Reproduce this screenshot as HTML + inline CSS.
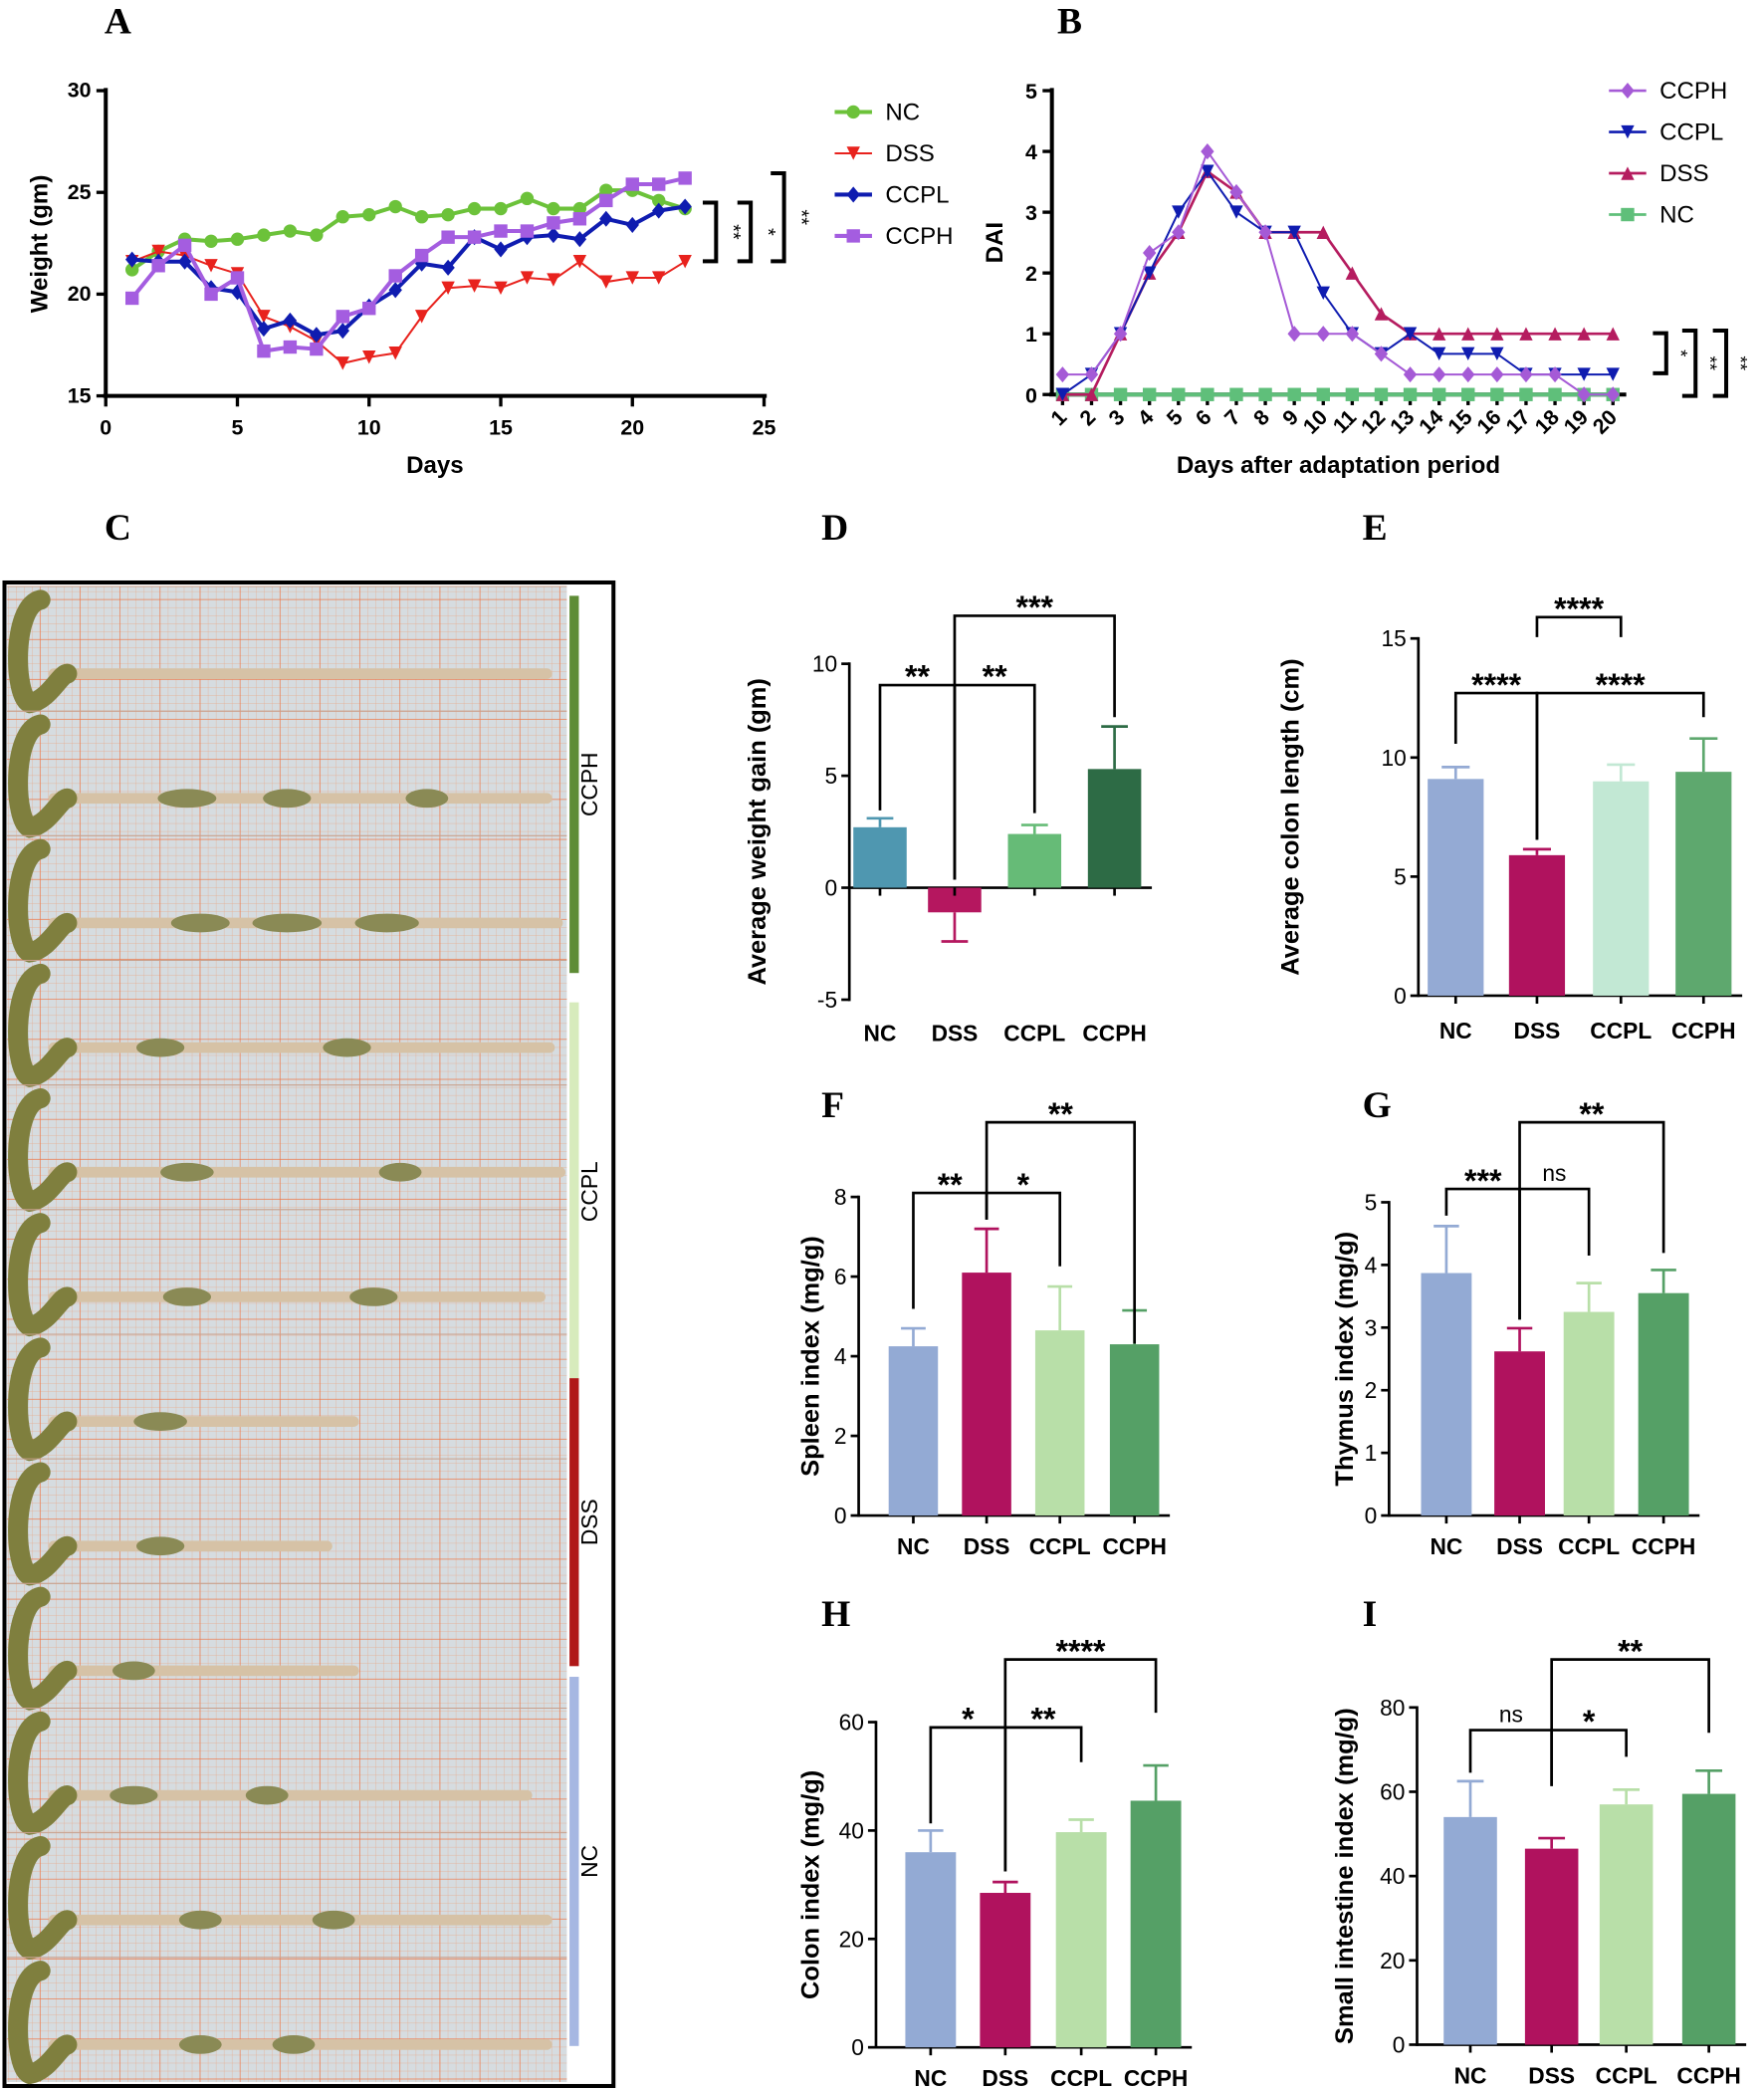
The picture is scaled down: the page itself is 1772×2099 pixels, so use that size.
<!DOCTYPE html>
<html><head><meta charset="utf-8">
<style>
html,body{margin:0;padding:0;background:#fff;}
svg{display:block;font-family:"Liberation Sans",Arial,sans-serif;}
.lt{font-family:"Liberation Serif",serif;font-weight:bold;font-size:28px;}
.tk{font-size:16px;font-weight:bold;}
.ax{font-size:18px;font-weight:bold;}
.lg{font-size:18px;}
</style></head>
<body>
<svg id="fig" width="1772" height="2099" viewBox="0 0 1323 1568" xmlns="http://www.w3.org/2000/svg">
<defs>
<pattern id="gridS" width="6" height="6" patternUnits="userSpaceOnUse"><path d="M6 0V6M0 6H6" stroke="#e8a888" stroke-width="0.5" fill="none"/></pattern>
<pattern id="gridL" width="30" height="30" patternUnits="userSpaceOnUse"><path d="M30 0V30M0 30H30" stroke="#ee6f3e" stroke-width="0.9" fill="none"/></pattern>
</defs>
<g id="labels">
<text class="lt" x="78" y="25">A</text>
<text class="lt" x="793" y="25">B</text>
<text class="lt" x="78" y="405">C</text>
<text class="lt" x="616" y="405">D</text>
<text class="lt" x="1022" y="405">E</text>
<text class="lt" x="616" y="838">F</text>
<text class="lt" x="1022" y="838">G</text>
<text class="lt" x="616" y="1220">H</text>
<text class="lt" x="1022" y="1220">I</text>
</g>
<g id="panelA"></g>
<g id="panelB"></g>
<g id="panelC"></g>
<g id="bars"></g>
</svg>
<script>
const NS="http://www.w3.org/2000/svg";
function mk(p,t,a,txt){const e=document.createElementNS(NS,t);for(const k in a)e.setAttribute(k,a[k]);if(txt!==undefined)e.textContent=txt;p.appendChild(e);return e;}

// ---------- Panel A data ----------
const daysA=[1,2,3,4,5,6,7,8,9,10,11,12,13,14,15,16,17,18,19,20,21,22];
const ncA=[21.2,22.1,22.7,22.6,22.7,22.9,23.1,22.9,23.8,23.9,24.3,23.8,23.9,24.2,24.2,24.7,24.2,24.2,25.1,25.1,24.6,24.2];
const dssA=[21.6,22.1,21.9,21.4,21.0,18.9,18.4,17.7,16.6,16.9,17.1,18.9,20.3,20.4,20.3,20.8,20.7,21.6,20.6,20.8,20.8,21.6];
const ccplA=[21.7,21.6,21.6,20.3,20.1,18.3,18.7,18.0,18.2,19.4,20.2,21.5,21.3,22.8,22.2,22.8,22.9,22.7,23.7,23.4,24.1,24.3];
const ccphA=[19.8,21.4,22.4,20.0,20.8,17.2,17.4,17.3,18.9,19.3,20.9,21.9,22.8,22.8,23.1,23.1,23.5,23.7,24.6,25.4,25.4,25.7];
const xTicksA=[0,5,10,15,20,25];
const yTicksA=[15,20,25,30];

// ---------- Panel B data ----------
const daysB=[1,2,3,4,5,6,7,8,9,10,11,12,13,14,15,16,17,18,19,20];
const ccphB=[0.33,0.33,1,2.33,2.67,4,3.33,2.67,1,1,1,0.67,0.33,0.33,0.33,0.33,0.33,0.33,0,0];
const ccplB=[0,0.33,1,2,3,3.67,3,2.67,2.67,1.67,1,0.67,1,0.67,0.67,0.67,0.33,0.33,0.33,0.33];
const dssB=[0,0,1,2,2.67,3.67,3.33,2.67,2.67,2.67,2,1.33,1,1,1,1,1,1,1,1];
const ncB=[0,0,0,0,0,0,0,0,0,0,0,0,0,0,0,0,0,0,0,0];
const yTicksB=[0,1,2,3,4,5];

// ---------- Bar chart data ----------
const groups=["NC","DSS","CCPL","CCPH"];
const dMeans=[2.7,-1.1,2.4,5.3];   const dErr=[0.4,1.3,0.4,1.9];  const dTicks=[-5,0,5,10];
const eMeans=[9.1,5.9,9.0,9.4];    const eErr=[0.5,0.25,0.7,1.4]; const eTicks=[0,5,10,15];
const fMeans=[4.25,6.1,4.65,4.3];  const fErr=[0.45,1.1,1.1,0.85]; const fTicks=[0,2,4,6,8];
const gMeans=[3.87,2.62,3.25,3.55];const gErr=[0.75,0.37,0.46,0.37]; const gTicks=[0,1,2,3,4,5];
const hMeans=[36,28.5,39.7,45.5];  const hErr=[4,2,2.3,6.5];      const hTicks=[0,20,40,60];
const iMeans=[54,46.5,57,59.5];    const iErr=[8.5,2.5,3.5,5.5];  const iTicks=[0,20,40,60,80];

// ---------- markers ----------
function marker(g,type,x,y,c,s){
  let e;
  if(type==="circle") e=mk(g,"circle",{cx:x,cy:y,r:s,fill:c});
  else if(type==="square") e=mk(g,"rect",{x:x-s,y:y-s,width:2*s,height:2*s,fill:c});
  else if(type==="down") e=mk(g,"path",{d:`M${x-s} ${y-s}L${x+s} ${y-s}L${x} ${y+s}Z`,fill:c});
  else if(type==="up") e=mk(g,"path",{d:`M${x-s} ${y+s}L${x+s} ${y+s}L${x} ${y-s}Z`,fill:c});
  else e=mk(g,"path",{d:`M${x} ${y-s-1}L${x+s} ${y}L${x} ${y+s+1}L${x-s} ${y}Z`,fill:c});
  
  
}

// ---------- Panel A ----------
(function(){
  const g=document.getElementById('panelA');
  const X=v=>79+(v/25)*494, Y=v=>297-(v-15)/15*229;
  mk(g,"line",{x1:79,y1:66,x2:79,y2:297,stroke:"#000","stroke-width":3});
  mk(g,"line",{x1:77,y1:297,x2:575,y2:297,stroke:"#000","stroke-width":3});
  xTicksA.forEach(t=>{mk(g,"line",{x1:X(t),y1:297,x2:X(t),y2:305,stroke:"#000","stroke-width":2.5});
    const e=mk(g,"text",{x:X(t),y:326,"text-anchor":"middle",class:"tk"},t);});
  yTicksA.forEach(t=>{mk(g,"line",{x1:72,y1:Y(t),x2:79,y2:Y(t),stroke:"#000","stroke-width":2.5});
    const e=mk(g,"text",{x:68,y:Y(t)+5,"text-anchor":"end",class:"tk"},t);});
  let t=mk(g,"text",{x:326,y:355,"text-anchor":"middle",class:"ax"},"Days");
  t=mk(g,"text",{transform:"translate(35,183) rotate(-90)","text-anchor":"middle",class:"ax"},"Weight (gm)");
  const series=[[ncA,"#6cc23a","circle",3,"NC"],[dssA,"#e8221d","down",1.5,"DSS"],[ccplA,"#0f1cb0","diamond",3,"CCPL"],[ccphA,"#a45de0","square",3,"CCPH"]];
  series.forEach(([d,c,m,w,name],si)=>{
    const s=mk(g,"g",{});
    mk(s,"polyline",{points:d.map((v,i)=>X(daysA[i])+","+Y(v)).join(" "),fill:"none",stroke:c,"stroke-width":w});
    d.forEach((v,i)=>marker(s,m,X(daysA[i]),Y(v),c,5));
    const ly=84+si*31;
    const le=mk(g,"g",{});
    mk(le,"line",{x1:626,y1:ly,x2:654,y2:ly,stroke:c,"stroke-width":w});marker(le,m,640,ly,c,5);
    mk(le,"text",{x:664,y:ly+6,class:"lg"},name);
  });
  [[527,"**"],[553,"*"],[578,"**"]].forEach(([x,s],i)=>{
    const top=[152,152,130][i];
    mk(g,"path",{d:`M${x} ${top}H${x+10}V196H${x}`,fill:"none",stroke:"#000","stroke-width":3});
    mk(g,"text",{transform:`translate(${x+18},${(top+196)/2}) rotate(90)`,"text-anchor":"middle","font-size":"15px"},s);
  });
})();

// ---------- Panel B ----------
(function(){
  const g=document.getElementById('panelB');
  const X=d=>797+(d-1)/19*413, Y=v=>296-v/5*228;
  mk(g,"line",{x1:789,y1:66,x2:789,y2:297,stroke:"#000","stroke-width":3});
  mk(g,"line",{x1:787,y1:296,x2:1220,y2:296,stroke:"#000","stroke-width":3});
  yTicksB.forEach(t=>{mk(g,"line",{x1:782,y1:Y(t),x2:789,y2:Y(t),stroke:"#000","stroke-width":2.5});
    const e=mk(g,"text",{x:778,y:Y(t)+6,"text-anchor":"end",class:"tk"},t);});
  daysB.forEach(d=>{mk(g,"line",{x1:X(d),y1:296,x2:X(d),y2:304,stroke:"#000","stroke-width":2.5});
    const e=mk(g,"text",{transform:`translate(${X(d)+4},${314}) rotate(-45)`,"text-anchor":"end",class:"tk"},d);});
  let t=mk(g,"text",{x:1004,y:355,"text-anchor":"middle",class:"ax"},"Days after adaptation period");
  t=mk(g,"text",{transform:"translate(752,182) rotate(-90)","text-anchor":"middle",class:"ax"},"DAI");
  const series=[[ncB,"#5fbf7a","square","NC",3],[dssB,"#b51c5f","up","DSS",2],[ccplB,"#0f1cb0","down","CCPL",1.5],[ccphB,"#a55ad6","diamond","CCPH",1.5]];
  series.forEach(([d,c,m,name,w])=>{
    const s=mk(g,"g",{});
    mk(s,"polyline",{points:d.map((v,i)=>X(daysB[i])+","+Y(v)).join(" "),fill:"none",stroke:c,"stroke-width":w});
    d.forEach((v,i)=>marker(s,m,X(daysB[i]),Y(v),c,5));
  });
  [["CCPH","#a55ad6","diamond"],["CCPL","#0f1cb0","down"],["DSS","#b51c5f","up"],["NC","#5fbf7a","square"]].forEach(([n,c,m],i)=>{
    const ly=68+i*31;const le=mk(g,"g",{});
    mk(le,"line",{x1:1207,y1:ly,x2:1235,y2:ly,stroke:c,"stroke-width":2});marker(le,m,1221,ly,c,5);
    mk(le,"text",{x:1245,y:ly+6,class:"lg"},n);
  });
  [[1240,250,280,"*"],[1262,248,297,"**"],[1285,248,297,"**"]].forEach(([x,a,b,s])=>{
    mk(g,"path",{d:`M${x} ${a}H${x+10}V${b}H${x}`,fill:"none",stroke:"#000","stroke-width":3});
    mk(g,"text",{transform:`translate(${x+16},${(a+b)/2}) rotate(90)`,"text-anchor":"middle","font-size":"14px"},s);
  });
})();

// ---------- Panel C (photo) ----------
(function(){
  const g=document.getElementById('panelC');
  mk(g,"rect",{x:3,y:437,width:457,height:1128,fill:"#fff",stroke:"#000","stroke-width":3});
  mk(g,"rect",{x:5,y:440,width:420,height:1122,fill:"#d6dce0"});
  mk(g,"rect",{x:5,y:440,width:420,height:1122,fill:"url(#gridS)"});
  mk(g,"rect",{x:5,y:440,width:420,height:1122,fill:"url(#gridL)"});
  const ends=[410,410,418,412,420,405,265,245,265,395,410,410];
  const clumps=[[],[[140,0.7],[215,0.5],[320,0.4]],[[150,0.7],[215,0.9],[290,0.8]],[[120,0.5],[260,0.5]],[[140,0.6],[300,0.4]],[[140,0.5],[280,0.5]],[[120,0.6]],[[120,0.5]],[[100,0.4]],[[100,0.5],[200,0.4]],[[150,0.4],[250,0.4]],[[150,0.4],[220,0.4]]];
  const h=1122/12;
  ends.forEach((e,i)=>{
    const y0=440+i*h, cy=y0+h*0.7;
    mk(g,"line",{x1:5,y1:y0,x2:425,y2:y0,stroke:"#c9a08c","stroke-width":0.8});
    const s=mk(g,"g",{});
    mk(s,"path",{d:`M40 ${cy}L${e} ${cy}`,stroke:"#d6c2a6","stroke-width":8,"stroke-linecap":"round"});
    mk(s,"path",{d:`M30 ${y0+10}C8 ${y0+15} 10 ${y0+h-10} 22 ${y0+h-6}C36 ${y0+h-8} 45 ${cy} 50 ${cy}`,stroke:"#7f7f3e","stroke-width":15,fill:"none","stroke-linecap":"round"});
    clumps[i].forEach(([x,k])=>mk(s,"ellipse",{cx:x,cy:cy,rx:20*k+8,ry:7,fill:"#8a8a55"}));
  });
  const bars=[[447,730,"#5e8c36","CCPH"],[752,1036,"#d7ebbc","CCPL"],[1034,1250,"#b01818","DSS"],[1258,1535,"#a6b7e2","NC"]];
  bars.forEach(([a,b,c,n])=>{
    const r=mk(g,"rect",{x:427,y:a,width:7,height:b-a,fill:c});
    mk(g,"text",{transform:`translate(448,${(a+b)/2}) rotate(-90)`,"text-anchor":"middle","font-size":"17px"},n);
  });
})();

// ---------- Bar charts ----------
function barChart(cfg){
  const g=mk(document.getElementById('bars'),"g",{});
  
  
  const {ax,yTop,yBot,ticks,means,errs,centers,bw,colors,title,xlY,brackets}=cfg;
  const lo=ticks[0],hi=ticks[ticks.length-1];
  const Y=v=>yBot-(v-lo)/(hi-lo)*(yBot-yTop);
  mk(g,"line",{x1:ax,y1:yTop-1,x2:ax,y2:yBot+1,stroke:"#000","stroke-width":2});
  const right=centers[3]+bw/2+8;
  mk(g,"line",{x1:ax,y1:Y(0),x2:right,y2:Y(0),stroke:"#000","stroke-width":2});
  ticks.forEach(t=>{mk(g,"line",{x1:ax-6,y1:Y(t),x2:ax,y2:Y(t),stroke:"#000","stroke-width":2});
    const e=mk(g,"text",{x:ax-9,y:Y(t)+6,"text-anchor":"end","font-size":"17px"},t);});
  means.forEach((m,i)=>{
    const c=centers[i];
    const top=Math.min(Y(m),Y(0)),hh=Math.abs(Y(m)-Y(0));
    const ev=m>=0?m+errs[i]:m-errs[i];
    mk(g,"line",{x1:c,y1:Y(m),x2:c,y2:Y(ev),stroke:colors[i],"stroke-width":2});
    mk(g,"line",{x1:c-bw/4,y1:Y(ev),x2:c+bw/4,y2:Y(ev),stroke:colors[i],"stroke-width":2});
    const r=mk(g,"rect",{x:c-bw/2,y:top,width:bw,height:hh,fill:colors[i]});
    
    
    mk(g,"line",{x1:c,y1:Y(0),x2:c,y2:Y(0)+6,stroke:"#000","stroke-width":2});
    const e=mk(g,"text",{x:c,y:xlY,"text-anchor":"middle","font-size":"17px","font-weight":"bold"},groups[i]);
    
  });
  let t=mk(g,"text",{transform:`translate(${cfg.titleX},${(yTop+yBot)/2}) rotate(-90)`,"text-anchor":"middle","font-size":"19px","font-weight":"bold"},title);
  
  brackets.forEach(([a,b,y,s,ya,yb])=>{
    const x1=centers[a],x2=centers[b];
    mk(g,"path",{d:`M${x1} ${ya}V${y}H${x2}V${yb}`,fill:"none",stroke:"#000","stroke-width":2});
    const e=mk(g,"text",{x:(x1+x2)/2,y:s==="ns"?y-6:y+2,"text-anchor":"middle","font-size":s==="ns"?"17px":"24px","font-weight":s==="ns"?"normal":"bold"},s);
    
  });
}
barChart({name:"weight-gain-bar-chart",ax:637,yTop:498,yBot:750,ticks:dTicks,means:dMeans,errs:dErr,centers:[660,716,776,836],bw:40,
  colors:["#4f97b0","#b5175f","#66bb77","#2d6b45"],title:"Average weight gain (gm)",titleX:574,xlY:781,
  brackets:[[0,1,514,"**",608,660],[1,2,514,"**",660,610],[1,3,462,"***",514,538]]});
barChart({name:"colon-length-bar-chart",ax:1064,yTop:479,yBot:747,ticks:eTicks,means:eMeans,errs:eErr,centers:[1092,1153,1216,1278],bw:42,
  colors:["#94aad4","#b0125e","#c2e8d4","#5ea86e"],title:"Average colon length (cm)",titleX:974,xlY:779,
  brackets:[[1,2,463,"****",478,478],[0,1,520,"****",558,630],[1,3,520,"****",630,538]]});
barChart({name:"spleen-index-bar-chart",ax:644,yTop:898,yBot:1137,ticks:fTicks,means:fMeans,errs:fErr,centers:[685,740,795,851],bw:37,
  colors:["#93aad4","#b0125e","#b8dfa8","#55a066"],title:"Spleen index (mg/g)",titleX:614,xlY:1166,
  brackets:[[0,1,895,"**",982,915],[1,2,895,"*",915,950],[1,3,842,"**",895,1008]]});
barChart({name:"thymus-index-bar-chart",ax:1042,yTop:902,yBot:1137,ticks:gTicks,means:gMeans,errs:gErr,centers:[1085,1140,1192,1248],bw:38,
  colors:["#93aad4","#b0125e","#b8dfa8","#55a066"],title:"Thymus index (mg/g)",titleX:1015,xlY:1166,
  brackets:[[0,1,892,"***",912,990],[1,2,892,"ns",990,942],[1,3,842,"**",892,940]]});
barChart({name:"colon-index-bar-chart",ax:657,yTop:1292,yBot:1536,ticks:hTicks,means:hMeans,errs:hErr,centers:[698,754,811,867],bw:38,
  colors:["#93aad4","#b0125e","#b8dfa8","#55a066"],title:"Colon index (mg/g)",titleX:614,xlY:1565,
  brackets:[[0,1,1296,"*",1368,1404],[1,2,1296,"**",1404,1322],[1,3,1245,"****",1296,1285]]});
barChart({name:"small-intestine-index-bar-chart",ax:1063,yTop:1281,yBot:1534,ticks:iTicks,means:iMeans,errs:iErr,centers:[1103,1164,1220,1282],bw:40,
  colors:["#93aad4","#b0125e","#b8dfa8","#55a066"],title:"Small intestine index (mg/g)",titleX:1015,xlY:1563,
  brackets:[[0,1,1298,"ns",1330,1340],[1,2,1298,"*",1340,1318],[1,3,1245,"**",1298,1300]]});
</script>
</body></html>
